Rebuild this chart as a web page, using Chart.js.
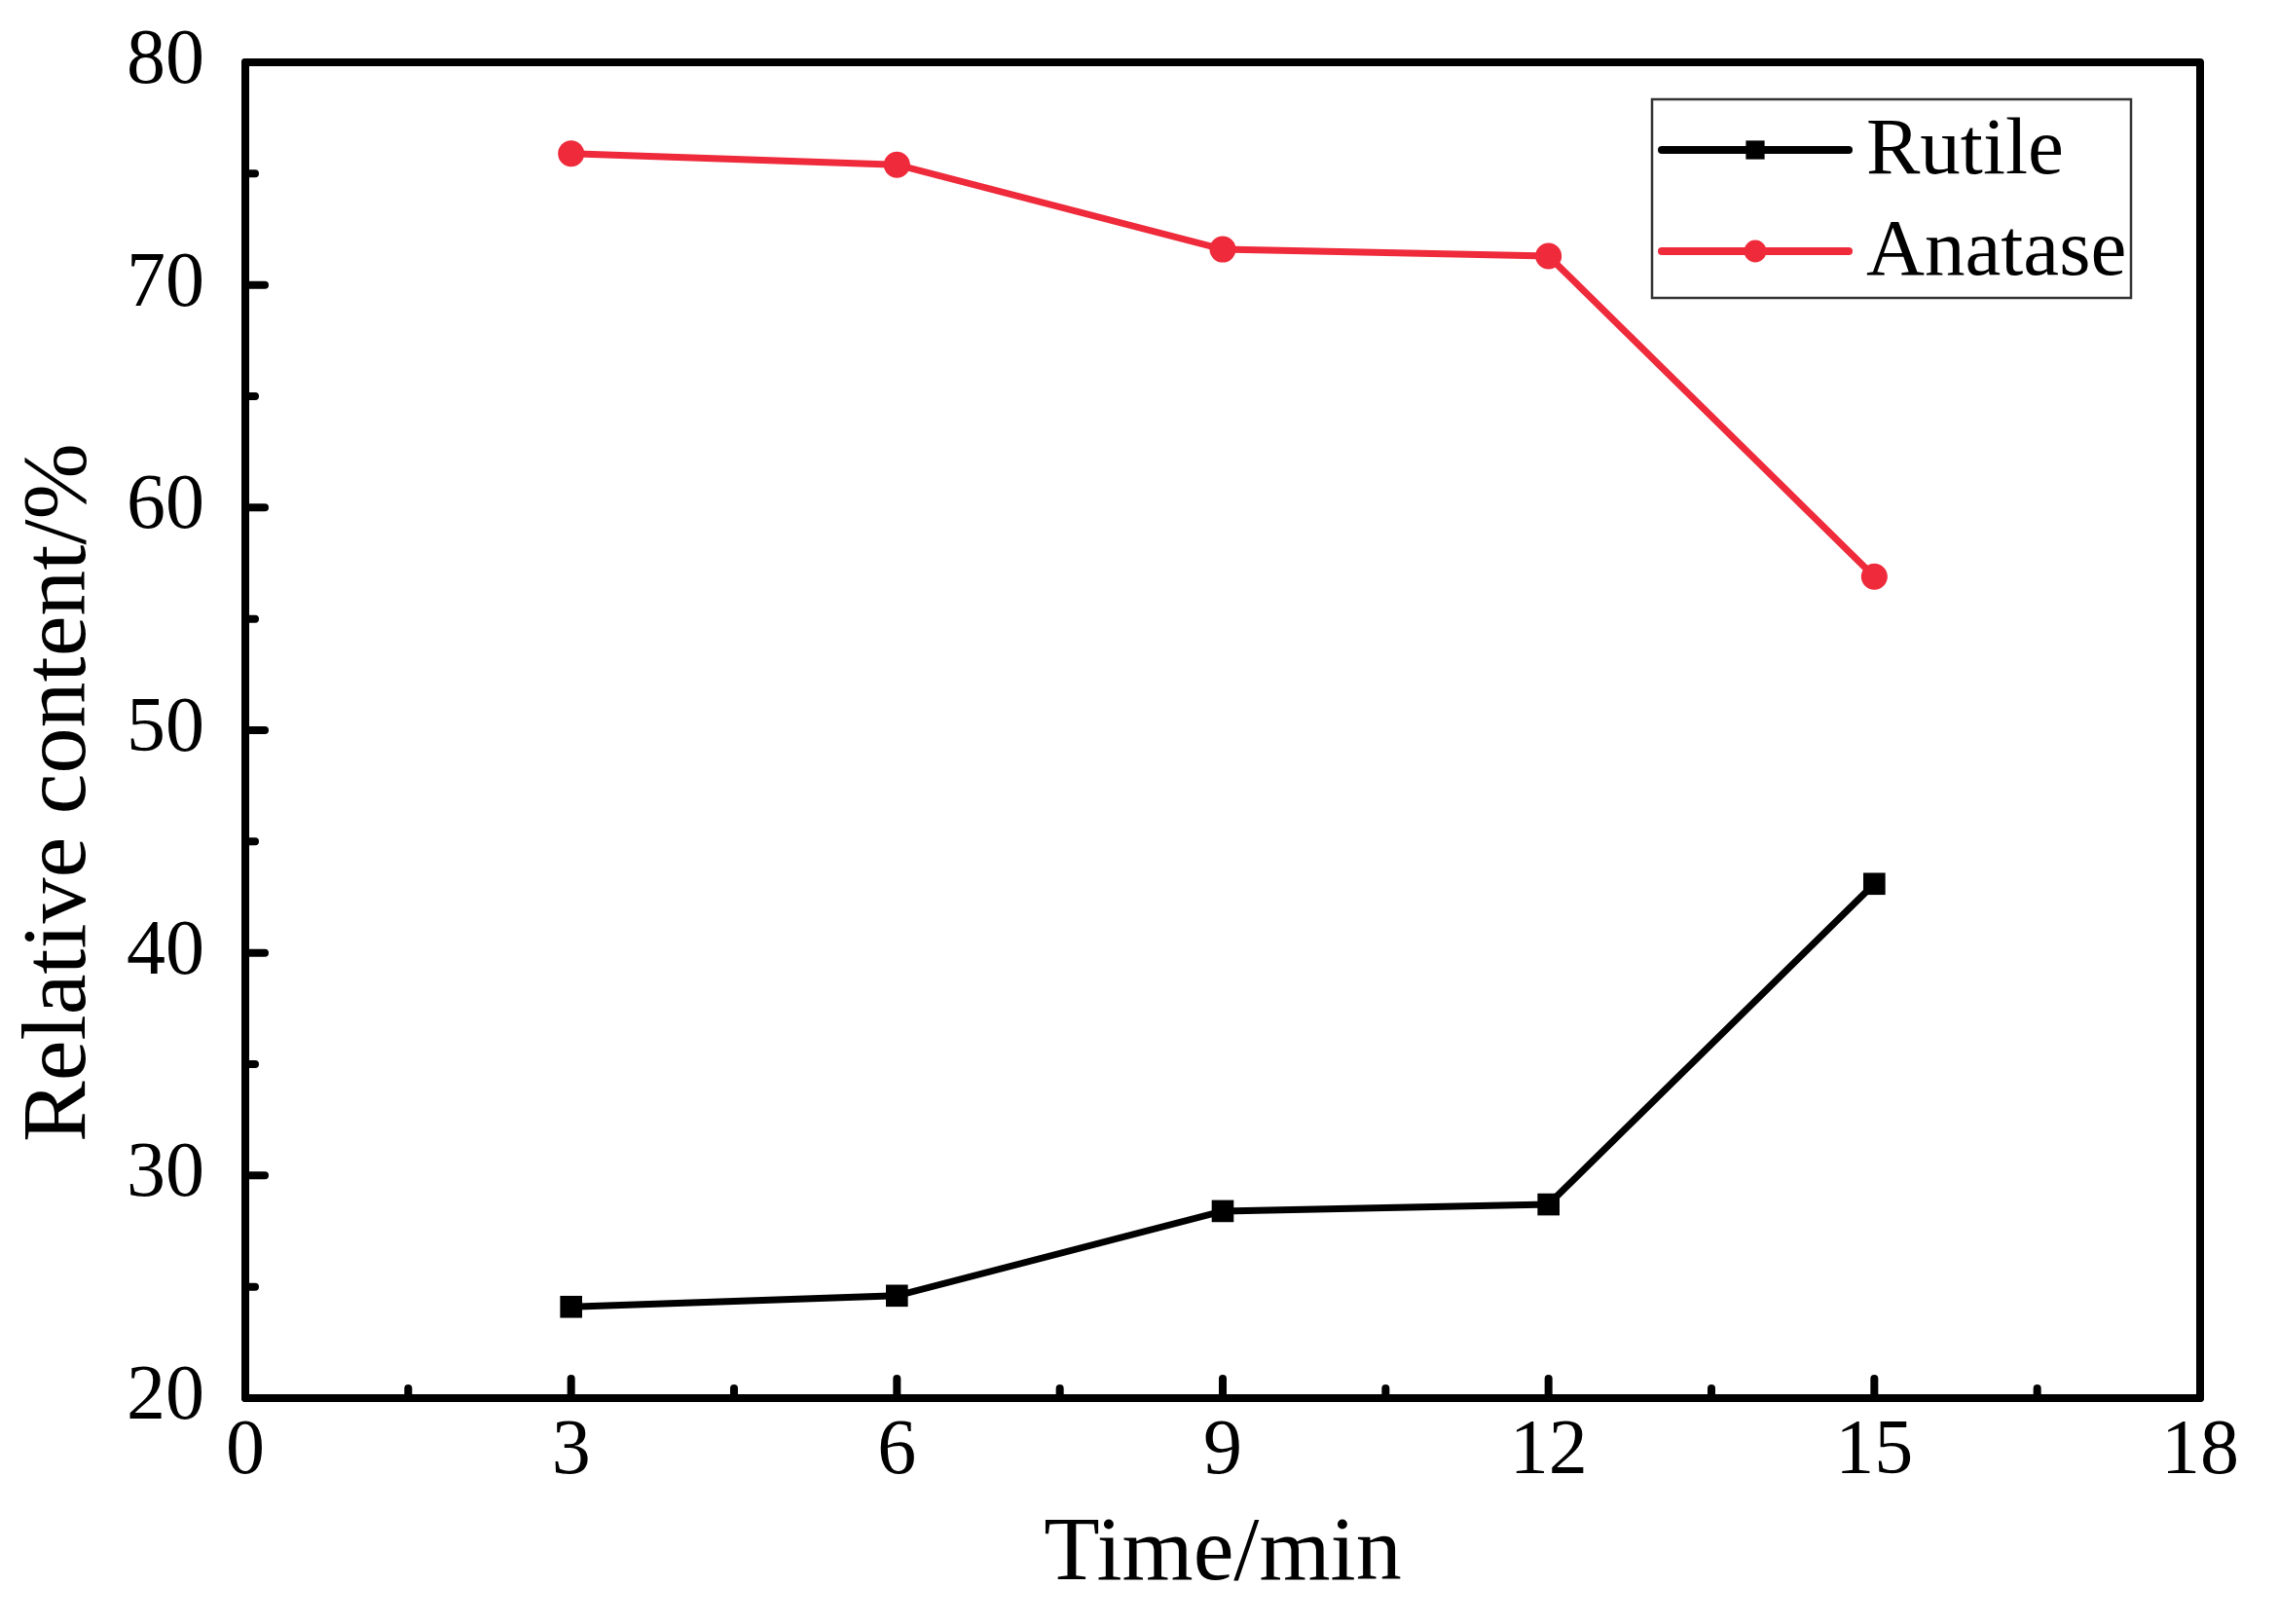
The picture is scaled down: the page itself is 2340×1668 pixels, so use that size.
<!DOCTYPE html>
<html><head><meta charset="utf-8">
<script src="https://cdn.jsdelivr.net/npm/chart.js@4.4.1/dist/chart.umd.min.js"></script>
<style>html,body{margin:0;padding:0;background:#fff;}canvas{display:block;}</style>
</head><body>
<canvas id="c" width="2340" height="1668"></canvas>
<script>
const timeMin = [3, 6, 9, 12, 15];
const rutile = [24.1, 24.6, 28.4, 28.7, 43.1];
const anatase = [75.9, 75.4, 71.6, 71.3, 56.9];
const xMajorTicks = [0, 3, 6, 9, 12, 15, 18];
const xMinorTicks = [1.5, 4.5, 7.5, 10.5, 13.5, 16.5];
const yMajorTicks = [20, 30, 40, 50, 60, 70, 80];
const yMinorTicks = [25, 35, 45, 55, 65, 75];
const seriesNames = ['Rutile', 'Anatase'];
const xTitle = 'Time/min';
const yTitle = 'Relative content/%';

const FONT = '"Liberation Serif", "Times New Roman", serif';
const RED = '#EE2A3B';
const AREA = { left: 252, top: 64, right: 2260, bottom: 1436 };

function pts(ys) { return timeMin.map((x, i) => ({ x: x, y: ys[i] })); }

function drawMarker(ctx, style, r, x, y, color) {
  ctx.save();
  ctx.fillStyle = color;
  ctx.beginPath();
  if (style === 'rect') {
    const s = Math.SQRT1_2 * r;
    ctx.rect(x - s, y - s, 2 * s, 2 * s);
  } else {
    ctx.arc(x, y, r, 0, Math.PI * 2);
  }
  ctx.fill();
  ctx.restore();
}

const framePlugin = {
  id: 'frameTicks',
  afterDatasetsDraw(chart) {
    const ctx = chart.ctx;
    const a = chart.chartArea;
    const xs = chart.scales.x, ys = chart.scales.y;
    ctx.save();
    ctx.strokeStyle = '#000';
    ctx.lineWidth = 8;
    ctx.lineCap = 'round';
    ctx.beginPath();
    xMajorTicks.forEach(v => { const p = xs.getPixelForValue(v); ctx.moveTo(p, a.bottom); ctx.lineTo(p, a.bottom - 20); });
    yMajorTicks.forEach(v => { const p = ys.getPixelForValue(v); ctx.moveTo(a.left, p); ctx.lineTo(a.left + 20, p); });
    xMinorTicks.forEach(v => { const p = xs.getPixelForValue(v); ctx.moveTo(p, a.bottom); ctx.lineTo(p, a.bottom - 10); });
    yMinorTicks.forEach(v => { const p = ys.getPixelForValue(v); ctx.moveTo(a.left, p); ctx.lineTo(a.left + 10, p); });
    ctx.stroke();
    ctx.lineJoin = 'round';
    ctx.strokeRect(a.left, a.top, a.right - a.left, a.bottom - a.top);
    ctx.restore();
  },
  afterDraw(chart) {
    const ctx = chart.ctx;
    const a = chart.chartArea;
    // y axis title
    ctx.save();
    ctx.fillStyle = '#000';
    ctx.font = '94px ' + FONT;
    ctx.textAlign = 'center';
    ctx.textBaseline = 'middle';
    ctx.translate(62, (a.top + a.bottom) / 2 + 64);
    ctx.rotate(-Math.PI / 2);
    ctx.fillText(yTitle, 0, 0);
    ctx.restore();
    // legend
    const bw = 492, bh = 204;
    const left = a.right - 71 - bw, by = a.top + 38;
    ctx.save();
    ctx.strokeStyle = '#333';
    ctx.lineWidth = 2.5;
    ctx.strokeRect(left, by, bw, bh);
    chart.data.datasets.forEach((ds, i) => {
      const y = by + 52 + i * 104;
      ctx.strokeStyle = ds.borderColor;
      ctx.lineWidth = 8;
      ctx.lineCap = 'round';
      ctx.beginPath();
      ctx.moveTo(left + 10, y);
      ctx.lineTo(left + 202, y);
      ctx.stroke();
      drawMarker(ctx, ds.pointStyle, ds.pointRadius * 0.85, left + 106, y, ds.pointBackgroundColor);
      ctx.fillStyle = '#000';
      ctx.font = '83px ' + FONT;
      ctx.textBaseline = 'middle';
      ctx.textAlign = 'left';
      ctx.fillText(ds.label, left + 220, y + 2);
    });
    ctx.restore();
  }
};

const chart = new Chart(document.getElementById('c'), {
  type: 'line',
  data: {
    datasets: [
      { label: seriesNames[0], data: pts(rutile), borderColor: '#000', backgroundColor: '#000',
        pointBackgroundColor: '#000', pointBorderColor: '#000', pointBorderWidth: 0, pointStyle: 'rect', pointRadius: 16,
        borderWidth: 7, tension: 0 },
      { label: seriesNames[1], data: pts(anatase), borderColor: RED, backgroundColor: RED,
        pointBackgroundColor: RED, pointBorderColor: RED, pointBorderWidth: 0, pointStyle: 'circle', pointRadius: 13.5,
        borderWidth: 7, tension: 0 }
    ]
  },
  options: {
    responsive: false,
    animation: false,
    devicePixelRatio: 1,
    layout: { padding: { top: AREA.top, right: 2340 - AREA.right, left: 0, bottom: 0 } },
    plugins: { legend: { display: false }, tooltip: { enabled: false } },
    scales: {
      x: {
        type: 'linear', min: 0, max: 18,
        afterBuildTicks: s => { s.ticks = xMajorTicks.map(v => ({ value: v })); },
        afterFit: s => { s.height = 1668 - AREA.bottom; s.paddingLeft = 0; s.paddingRight = 0; },
        grid: { display: false, drawTicks: false },
        border: { display: false },
        ticks: { color: '#000', padding: 8, maxRotation: 0, font: { family: FONT, size: 80 } },
        title: { display: true, text: xTitle, color: '#000', padding: { top: 0, bottom: 14 }, font: { family: FONT, size: 94 } }
      },
      y: {
        type: 'linear', min: 20, max: 80,
        afterBuildTicks: s => { s.ticks = yMajorTicks.map(v => ({ value: v })); },
        afterFit: s => { s.width = AREA.left; s.paddingTop = 0; s.paddingBottom = 0; },
        grid: { display: false, drawTicks: false },
        border: { display: false },
        ticks: { color: '#000', padding: 42, font: { family: FONT, size: 80 } },
        title: { display: false }
      }
    }
  },
  plugins: [framePlugin]
});

// correct any layout drift so the plot frame lands where the reference has it
for (let k = 0; k < 4; k++) {
  const ca = chart.chartArea;
  const pad = chart.config.options.layout.padding;
  const dTop = ca.top - AREA.top, dRight = AREA.right - ca.right;
  if (Math.abs(dTop) <= 0.5 && Math.abs(dRight) <= 0.5) break;
  pad.top -= dTop;
  pad.right += dRight;
  chart.update();
}
</script>
</body></html>
